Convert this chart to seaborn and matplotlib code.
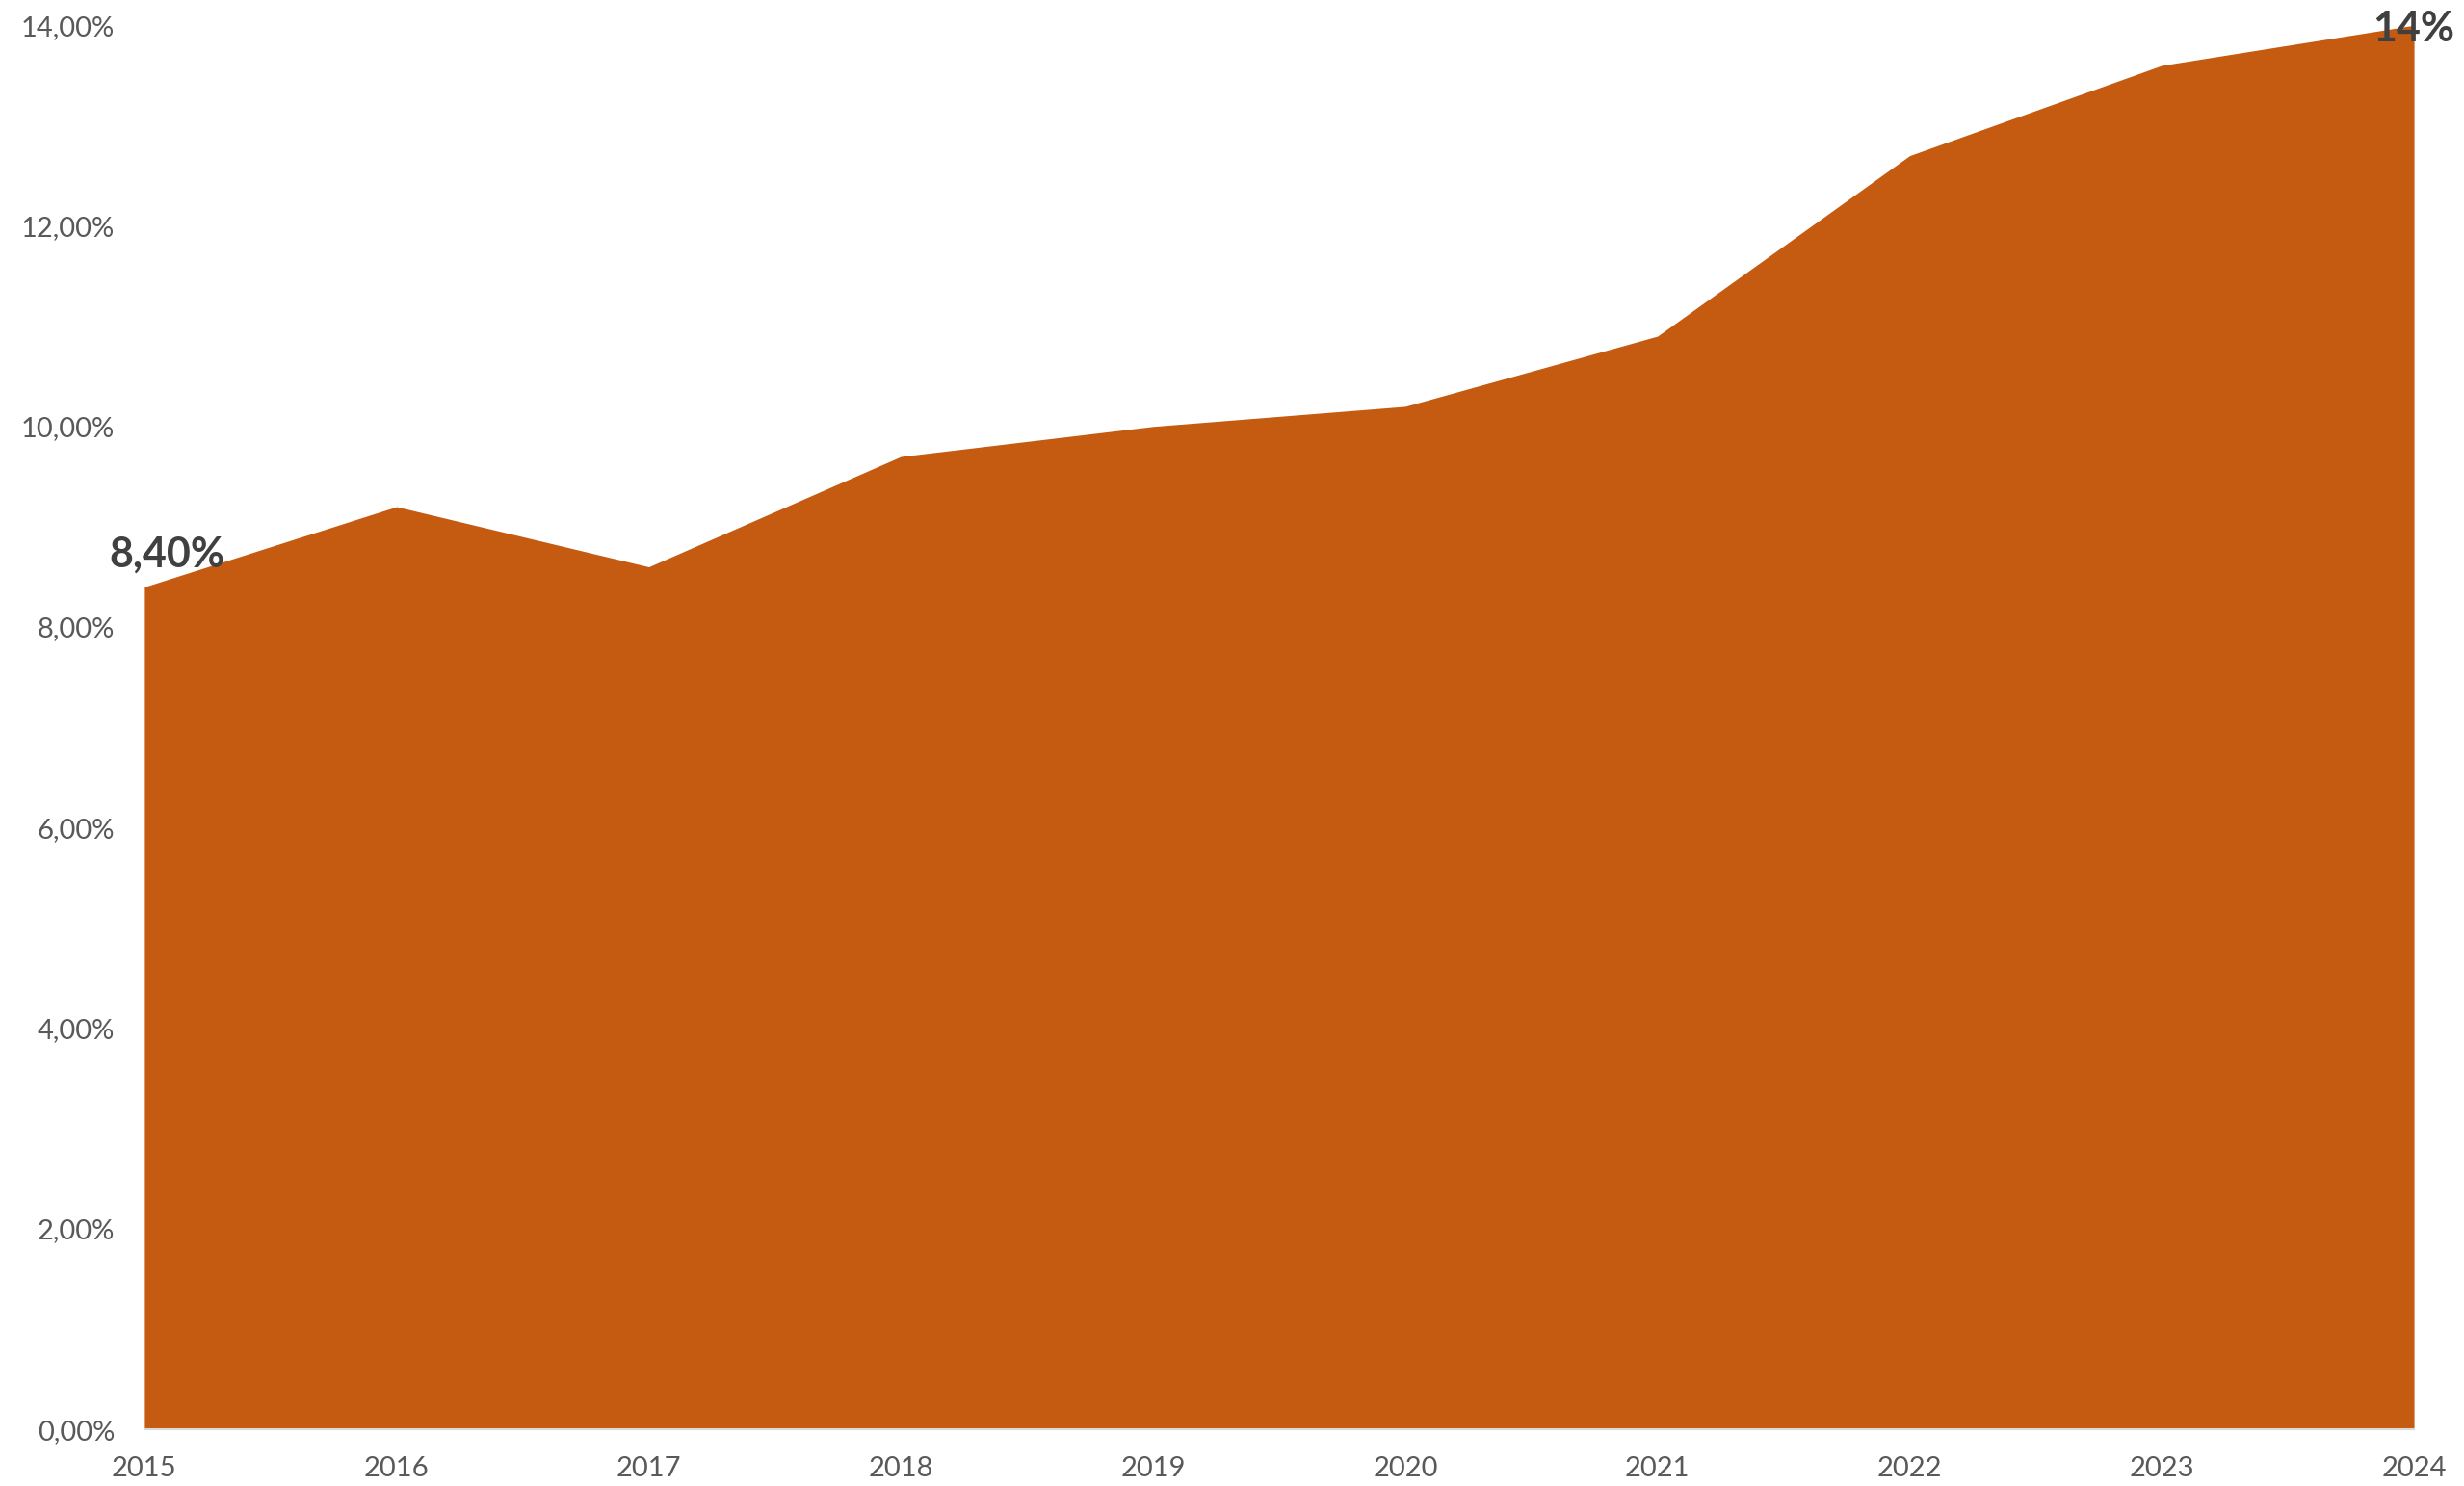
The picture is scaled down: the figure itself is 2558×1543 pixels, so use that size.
import matplotlib.pyplot as plt
from matplotlib.ticker import FuncFormatter
import seaborn as sns
import pandas as pd

years = [2015, 2016, 2017, 2018, 2019, 2020, 2021, 2022, 2023, 2024]
rates = [8.4, 9.2, 8.6, 9.7, 10.0, 10.2, 10.9, 12.7, 13.6, 14.0]
first_label = "8,40%"
last_label = "14%"

fill_color = '#C55A11'
text_color = '#595959'
label_color = '#404040'

df = pd.DataFrame({'year': years, 'rate': rates})

sns.set_theme(style='white')
plt.rcParams['font.family'] = ['Lato', 'DejaVu Sans']

fig = plt.figure(figsize=(25.58, 15.43), dpi=100)
ax = fig.add_axes([0.0586, 0.0382, 0.9211, 0.9448])

sns.lineplot(data=df, x='year', y='rate', color=fill_color, linewidth=0, ax=ax)
ax.fill_between(df['year'], 0, df['rate'], color=fill_color, linewidth=0)

ax.set_xlim(years[0], years[-1])
ax.set_ylim(0, 14)
ax.set_yticks(range(0, 15, 2))
ax.yaxis.set_major_formatter(FuncFormatter(lambda v, p: f"{v:.2f}%".replace('.', ',')))
ax.set_xticks(years)
ax.set_xticklabels([str(y) for y in years])
ax.tick_params(axis='both', labelsize=21, colors=text_color, length=0)
ax.tick_params(axis='x', pad=20)
ax.tick_params(axis='y', pad=22)
ax.set_xlabel('')
ax.set_ylabel('')

for side in ['top', 'right', 'left']:
    ax.spines[side].set_visible(False)
ax.spines['bottom'].set_color('#D9D9D9')
ax.spines['bottom'].set_linewidth(1.5)

ax.annotate(first_label, (years[0], rates[0]), xytext=(17, 10), textcoords='offset points',
            ha='center', va='bottom', fontsize=31, fontweight='bold', color=label_color,
            annotation_clip=False)
ax.annotate(last_label, (years[-1], rates[-1]), xytext=(0, -17), textcoords='offset points',
            ha='center', va='bottom', fontsize=31, fontweight='bold', color=label_color,
            annotation_clip=False)

plt.savefig('out.png', dpi=100)
plt.close()
